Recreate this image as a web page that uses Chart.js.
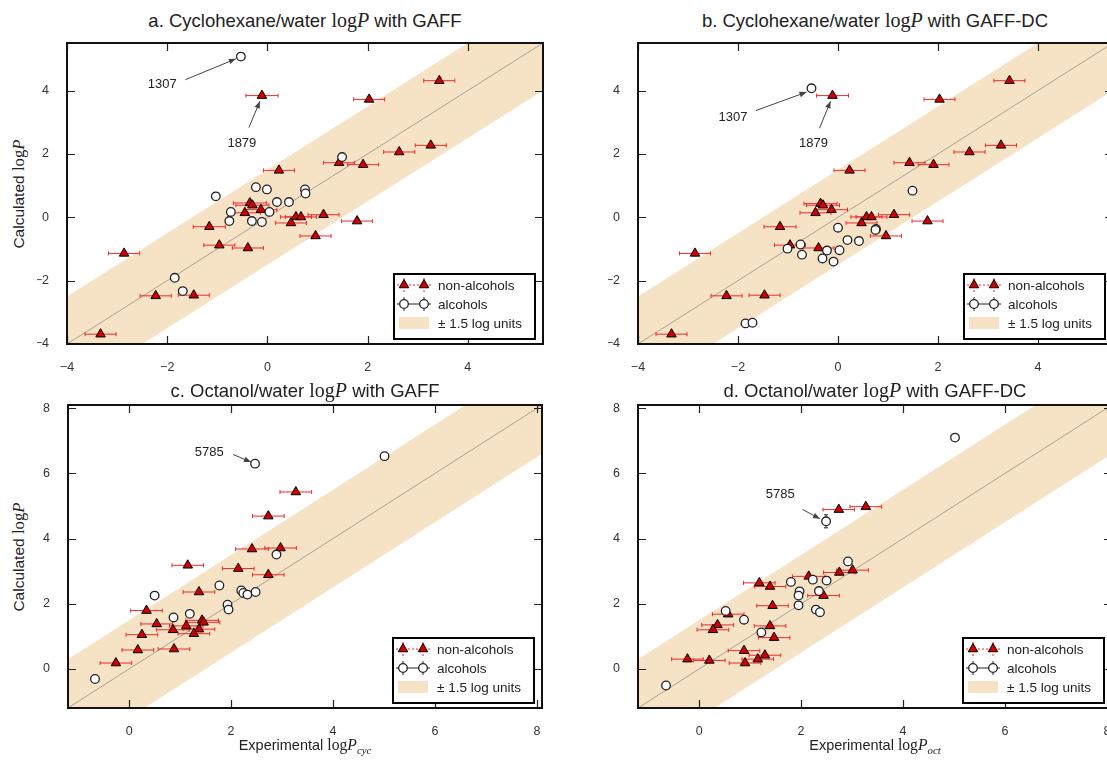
<!DOCTYPE html>
<html>
<head>
<meta charset="utf-8">
<script src="https://cdn.jsdelivr.net/npm/chart.js@4"></script>
<style>
html,body{margin:0;padding:0;background:#fff;overflow:hidden;width:1107px;height:764px;}
#wrap{position:relative;width:1107px;height:764px;overflow:hidden;}
canvas{position:absolute;}
.t{position:absolute;font-family:"Liberation Sans",Arial,sans-serif;color:#222;white-space:nowrap;text-align:center;}
.m{font-family:"Liberation Serif","Times New Roman",serif;font-size:1.08em;}
.mi{font-family:"Liberation Serif","Times New Roman",serif;font-style:italic;font-size:1.08em;}
.sub{font-family:"Liberation Serif","Times New Roman",serif;font-style:italic;font-size:0.75em;position:relative;top:0.35em;}
.ttl{font-size:18.5px;line-height:22px;width:600px;}
.yl{font-size:15.5px;transform:translate(-50%,-50%) rotate(-90deg);}
.xl{font-size:14.5px;transform:translate(-50%,-50%);}
</style>
</head>
<body>
<div id="wrap">
  <canvas id="ca" width="516" height="341" style="left:37px;top:33px;"></canvas>
  <canvas id="cb" width="515" height="341" style="left:608px;top:33px;"></canvas>
  <canvas id="cc" width="514" height="343" style="left:38px;top:395px;"></canvas>
  <canvas id="cd" width="514" height="343" style="left:608px;top:395px;"></canvas>

  <div class="t ttl" style="left:5px;top:9px;">a. Cyclohexane/water <span class="m">log</span><span class="mi">P</span> with GAFF</div>
  <div class="t ttl" style="left:575px;top:9px;">b. Cyclohexane/water <span class="m">log</span><span class="mi">P</span> with GAFF-DC</div>
  <div class="t ttl" style="left:5px;top:379px;">c. Octanol/water <span class="m">log</span><span class="mi">P</span> with GAFF</div>
  <div class="t ttl" style="left:575px;top:379px;">d. Octanol/water <span class="m">log</span><span class="mi">P</span> with GAFF-DC</div>

  <div class="t yl" style="left:18.5px;top:193.5px;">Calculated <span class="m">log</span><span class="mi">P</span></div>
  <div class="t yl" style="left:18.5px;top:556.5px;">Calculated <span class="m">log</span><span class="mi">P</span></div>
  <div class="t xl" style="left:305px;top:745px;">Experimental <span class="m">log</span><span class="mi">P</span><span class="sub">cyc</span></div>
  <div class="t xl" style="left:875px;top:745px;">Experimental <span class="m">log</span><span class="mi">P</span><span class="sub">oct</span></div>
</div>
<script>
// ---------- tick labels / axis ranges ----------
const cycXTicks = [-4, -2, 0, 2, 4];
const cycYTicks = [-4, -2, 0, 2, 4];
const octXTicks = [0, 2, 4, 6, 8];
const octYTicks = [0, 2, 4, 6, 8];
const cycRange = [-4, 5.5];
const octRange = [-1.2, 8.1];
const bandHalfWidth = 1.5;

// ---------- cyclohexane, non-alcohols (same in GAFF and GAFF-DC) ----------
const cycNonAlcExp  = [-0.11, 0.23, 1.43, -0.35, -0.30, -0.45, -0.13, -1.16, -0.96, -0.39, -2.86, -2.23, -1.47, -3.33, 0.47, 0.57, 0.67, 1.12, 0.96, 1.79, 3.43, 2.03, 3.26, 2.63, 1.91];
const cycNonAlcGaff = [3.84, 1.48, 1.72, 0.45, 0.38, 0.14, 0.24, -0.30, -0.88, -0.97, -1.14, -2.48, -2.46, -3.69, -0.18, 0.01, 0.01, 0.08, -0.59, -0.12, 4.31, 3.72, 2.27, 2.06, 1.66];
const cycNonAlcDc   = [3.84, 1.48, 1.72, 0.43, 0.38, 0.14, 0.24, -0.30, -0.88, -0.97, -1.14, -2.48, -2.46, -3.69, -0.18, 0.01, 0.01, 0.08, -0.59, -0.12, 4.31, 3.72, 2.27, 2.06, 1.66];
const cycNonAlcErr  = [0.32, 0.31, 0.31, 0.33, 0.33, 0.31, 0.32, 0.32, 0.31, 0.31, 0.31, 0.31, 0.31, 0.31, 0.31, 0.31, 0.31, 0.31, 0.31, 0.31, 0.31, 0.31, 0.31, 0.31, 0.31];

// ---------- cyclohexane, alcohols ----------
const cycAlcExpGaff = [-0.53, 1.49, -0.23, -0.01, -1.03, 0.75, 0.76, 0.19, 0.43, -0.73, 0.04, -0.76, -0.31, -0.11, -1.85, -1.69];
const cycAlcGaff    = [5.07, 1.90, 0.95, 0.88, 0.66, 0.88, 0.75, 0.48, 0.48, 0.17, 0.17, -0.12, -0.12, -0.15, -1.91, -2.33];
const cycAlcExpDc   = [-0.53, 1.49, 0.00, 0.19, 0.42, -1.01, -0.75, -0.72, -0.22, -0.31, -0.09, 0.03, -1.85, -1.71, 0.76, 0.75];
const cycAlcDc      = [4.07, 0.84, -0.33, -0.72, -0.75, -0.99, -0.86, -1.18, -1.05, -1.30, -1.40, -1.04, -3.35, -3.33, -0.37, -0.40];

// ---------- octanol, non-alcohols ----------
const octNonAlcExpGaff = [3.27, 2.73, 2.41, 2.97, 2.14, 2.73, 1.15, 1.37, 0.34, 0.54, 0.25, 0.86, 1.12, 1.43, 1.46, 1.37, 1.27, 0.17, 0.88, -0.26];
const octNonAlcGaff    = [5.43, 4.69, 3.68, 3.71, 3.08, 2.89, 3.18, 2.36, 1.79, 1.38, 1.05, 1.20, 1.32, 1.49, 1.43, 1.22, 1.08, 0.58, 0.61, 0.18];
const octNonAlcErrGaff = [0.31, 0.31, 0.32, 0.31, 0.31, 0.31, 0.31, 0.31, 0.31, 0.31, 0.31, 0.32, 0.33, 0.32, 0.32, 0.31, 0.31, 0.31, 0.31, 0.31];
const octNonAlcExpDc   = [2.74, 3.27, 1.18, 1.39, 2.15, 2.44, 2.75, 3.01, 1.44, 0.57, 0.36, 0.27, 1.39, 1.47, 0.88, 0.90, 1.15, 1.29, -0.23, 0.20];
const octNonAlcDc      = [4.89, 4.98, 2.64, 2.53, 2.84, 2.25, 2.96, 3.03, 1.94, 1.68, 1.35, 1.20, 1.32, 0.96, 0.56, 0.18, 0.30, 0.42, 0.30, 0.26];
const octNonAlcErrDc   = [0.31, 0.31, 0.31, 0.31, 0.32, 0.31, 0.31, 0.31, 0.31, 0.31, 0.31, 0.31, 0.31, 0.31, 0.31, 0.31, 0.31, 0.31, 0.31, 0.31];

// ---------- octanol, alcohols ----------
const octAlcExpGaff = [2.47, 2.89, 0.50, 1.77, 2.20, 2.24, 2.32, 2.48, 1.93, 1.95, 1.19, 0.87, -0.67, 5.01];
const octAlcGaff    = [6.30, 3.51, 2.25, 2.56, 2.41, 2.33, 2.28, 2.36, 1.97, 1.82, 1.69, 1.58, -0.31, 6.53];
const octAlcErrGaff = [0.12, 0, 0, 0, 0, 0, 0, 0, 0, 0, 0, 0, 0, 0];
const octAlcExpDc   = [2.49, 2.92, 1.80, 2.23, 2.50, 1.97, 1.95, 2.35, 1.95, 2.29, 2.37, 0.52, 0.88, 1.22, -0.65, 5.02];
const octAlcDc      = [4.53, 3.30, 2.67, 2.74, 2.71, 2.38, 2.25, 2.39, 1.95, 1.82, 1.74, 1.78, 1.51, 1.12, -0.51, 7.10];
const octAlcErrDc   = [0.2, 0, 0, 0, 0, 0, 0, 0, 0, 0, 0, 0, 0, 0, 0, 0];

// ---------- annotations: [label, textX, textY, arrowFromX, arrowFromY, arrowToX, arrowToY] ----------
const annotCycGaff = [['1307', -2.1, 4.19, -1.64, 4.34, -0.63, 5.00], ['1879', -0.51, 2.34, -0.37, 2.83, -0.15, 3.66]];
const annotCycDc   = [['1307', -2.1, 3.14, -1.64, 3.37, -0.63, 3.95], ['1879', -0.49, 2.34, -0.37, 2.81, -0.15, 3.66]];
const annotOctGaff = [['5785', 1.57, 6.64, 2.04, 6.58, 2.39, 6.35]];
const annotOctDc   = [['5785', 1.59, 5.35, 2.03, 4.89, 2.37, 4.61]];

const legendLabels = ['non-alcohols', 'alcohols', '\u00b1 1.5 log units'];

// ---------- styles ----------
const BAND = '#f6e2c5';
const TRI_FILL = '#d00000';
const ERR_RED = '#ee2a2a';
const FONT = '"Liberation Sans", Arial, sans-serif';

function pts(xs, ys) { return xs.map((x, i) => ({ x: x, y: ys[i] })); }
function fmt(v) { return String(v).replace('-', '\u2212'); }

function tri(ctx, x, y, r) {
  ctx.beginPath();
  for (let k = 0; k < 3; k++) {
    const a = k * 2 * Math.PI / 3;
    const px = x + Math.sin(a) * r, py = y - Math.cos(a) * r;
    if (k === 0) ctx.moveTo(px, py); else ctx.lineTo(px, py);
  }
  ctx.closePath();
  ctx.fillStyle = TRI_FILL; ctx.fill();
  ctx.strokeStyle = '#000'; ctx.lineWidth = 1; ctx.stroke();
}
function circ(ctx, x, y, r) {
  ctx.beginPath(); ctx.arc(x, y, r, 0, Math.PI * 2);
  ctx.fillStyle = '#fff'; ctx.fill();
  ctx.strokeStyle = '#222'; ctx.lineWidth = 1.3; ctx.stroke();
}
function arrow(ctx, x0, y0, x1, y1) {
  ctx.strokeStyle = '#444'; ctx.fillStyle = '#444'; ctx.lineWidth = 1;
  ctx.beginPath(); ctx.moveTo(x0, y0); ctx.lineTo(x1, y1); ctx.stroke();
  const a = Math.atan2(y1 - y0, x1 - x0), L = 7, W = 2.8;
  ctx.beginPath(); ctx.moveTo(x1, y1);
  ctx.lineTo(x1 - L * Math.cos(a) + W * Math.sin(a), y1 - L * Math.sin(a) - W * Math.cos(a));
  ctx.lineTo(x1 - L * Math.cos(a) - W * Math.sin(a), y1 - L * Math.sin(a) + W * Math.cos(a));
  ctx.closePath(); ctx.fill();
}

function makeChart(id, range, xTicks, yTicks, nonAlc, nonAlcErr, alc, alcErr, annots) {
  const diagX = [range[0] - 2, range[1] + 2];
  const decor = {
    id: 'decor' + id,
    beforeDatasetDraw(chart, args) {
      const ds = chart.data.datasets[args.index];
      if (!ds.xErr && !ds.yErr) return;
      const ctx = chart.ctx, xs = chart.scales.x, ys = chart.scales.y;
      ctx.save();
      ctx.strokeStyle = ds.errColor; ctx.lineWidth = 1;
      ds.data.forEach((p, i) => {
        const px = xs.getPixelForValue(p.x), py = ys.getPixelForValue(p.y);
        ctx.beginPath();
        if (ds.xErr && ds.xErr[i]) {
          const a = xs.getPixelForValue(p.x - ds.xErr[i]), b = xs.getPixelForValue(p.x + ds.xErr[i]);
          ctx.moveTo(a, py); ctx.lineTo(b, py);
          ctx.moveTo(a, py - 2); ctx.lineTo(a, py + 2);
          ctx.moveTo(b, py - 2); ctx.lineTo(b, py + 2);
        }
        if (ds.yErr && ds.yErr[i]) {
          const a = ys.getPixelForValue(p.y - ds.yErr[i]), b = ys.getPixelForValue(p.y + ds.yErr[i]);
          ctx.moveTo(px, a); ctx.lineTo(px, b);
          ctx.moveTo(px - 2, a); ctx.lineTo(px + 2, a);
          ctx.moveTo(px - 2, b); ctx.lineTo(px + 2, b);
        }
        ctx.stroke();
      });
      ctx.restore();
    },
    afterDatasetsDraw(chart) {
      const ctx = chart.ctx, ca = chart.chartArea, xs = chart.scales.x, ys = chart.scales.y;
      ctx.save();
      // inward ticks
      ctx.strokeStyle = '#222'; ctx.lineWidth = 1.2;
      ctx.beginPath();
      xTicks.forEach(v => {
        const px = Math.round(xs.getPixelForValue(v)) + 0.5;
        ctx.moveTo(px, ca.bottom); ctx.lineTo(px, ca.bottom - 8);
        ctx.moveTo(px, ca.top); ctx.lineTo(px, ca.top + 8);
      });
      yTicks.forEach(v => {
        const py = Math.round(ys.getPixelForValue(v)) + 0.5;
        ctx.moveTo(ca.left, py); ctx.lineTo(ca.left + 8, py);
        ctx.moveTo(ca.right, py); ctx.lineTo(ca.right - 8, py);
      });
      ctx.stroke();
      // annotations
      ctx.font = '13px ' + FONT;
      ctx.textAlign = 'center'; ctx.textBaseline = 'middle';
      annots.forEach(a => {
        ctx.fillStyle = '#222';
        ctx.fillText(a[0], xs.getPixelForValue(a[1]), ys.getPixelForValue(a[2]));
        arrow(ctx, xs.getPixelForValue(a[3]), ys.getPixelForValue(a[4]), xs.getPixelForValue(a[5]), ys.getPixelForValue(a[6]));
      });
      // legend
      const W = 141, H = 65;
      const lx = ca.right - 8 - W, ly = ca.bottom - 5 - H;
      ctx.fillStyle = '#fff'; ctx.fillRect(lx, ly, W, H);
      const r1 = ly + 11, r2 = ly + 30, r3 = ly + 49;
      ctx.strokeStyle = ERR_RED; ctx.lineWidth = 1; ctx.setLineDash([2, 2]);
      ctx.beginPath();
      ctx.moveTo(lx + 3, r1); ctx.lineTo(lx + 38, r1);
      ctx.moveTo(lx + 10, r1 - 7); ctx.lineTo(lx + 10, r1 + 7);
      ctx.moveTo(lx + 30, r1 - 7); ctx.lineTo(lx + 30, r1 + 7);
      ctx.stroke(); ctx.setLineDash([]);
      tri(ctx, lx + 10, r1, 5.5); tri(ctx, lx + 30, r1, 5.5);
      ctx.strokeStyle = '#222'; ctx.lineWidth = 1;
      ctx.beginPath();
      ctx.moveTo(lx + 3, r2); ctx.lineTo(lx + 37, r2);
      ctx.moveTo(lx + 10, r2 - 7); ctx.lineTo(lx + 10, r2 + 7);
      ctx.moveTo(lx + 30, r2 - 7); ctx.lineTo(lx + 30, r2 + 7);
      ctx.stroke();
      circ(ctx, lx + 10, r2, 4.3); circ(ctx, lx + 30, r2, 4.3);
      ctx.fillStyle = BAND; ctx.fillRect(lx + 5, r3 - 6, 30, 12);
      ctx.fillStyle = '#222'; ctx.font = '13.5px ' + FONT;
      ctx.textAlign = 'left'; ctx.textBaseline = 'middle';
      ctx.fillText(legendLabels[0], lx + 44, r1 + 1);
      ctx.fillText(legendLabels[1], lx + 44, r2 + 1);
      ctx.fillText(legendLabels[2], lx + 44, r3 + 1);
      ctx.strokeStyle = '#000'; ctx.lineWidth = 2;
      ctx.strokeRect(lx, ly, W, H);
      // frame
      ctx.strokeStyle = '#111'; ctx.lineWidth = 2;
      ctx.strokeRect(ca.left, ca.top, ca.right - ca.left, ca.bottom - ca.top);
      ctx.restore();
    }
  };
  const tickFont = { family: FONT, size: 12.5 };
  return new Chart(document.getElementById(id), {
    type: 'scatter',
    data: {
      datasets: [
        { type: 'line', data: diagX.map(x => ({ x: x, y: x + bandHalfWidth })), borderWidth: 0, pointRadius: 0, backgroundColor: BAND, borderColor: 'rgba(0,0,0,0)', fill: '+1', order: 4 },
        { type: 'line', data: diagX.map(x => ({ x: x, y: x - bandHalfWidth })), borderWidth: 0, pointRadius: 0, borderColor: 'rgba(0,0,0,0)', fill: false, order: 3 },
        { type: 'line', data: diagX.map(x => ({ x: x, y: x })), borderWidth: 1, pointRadius: 0, borderColor: 'rgba(110,110,110,0.55)', fill: false, order: 2 },
        { data: nonAlc, xErr: nonAlcErr, errColor: ERR_RED, pointStyle: 'triangle', pointRadius: 5.5, backgroundColor: TRI_FILL, borderColor: '#000', borderWidth: 1, order: 1 },
        { data: alc, yErr: alcErr, errColor: '#222', pointStyle: 'circle', pointRadius: 4.3, backgroundColor: '#fff', borderColor: '#222', borderWidth: 1.3, order: 0 }
      ]
    },
    options: {
      responsive: false, animation: false, events: [],
      layout: { padding: { left: 0, right: 10, top: 10, bottom: 0 } },
      plugins: { legend: { display: false }, tooltip: { enabled: false }, title: { display: false } },
      scales: {
        x: {
          type: 'linear', position: 'bottom', min: range[0], max: range[1],
          grid: { display: false }, border: { display: false },
          afterBuildTicks: s => { s.ticks = xTicks.map(v => ({ value: v })); },
          afterFit: s => { s.height = 30; s.paddingLeft = 0; s.paddingRight = 0; s.paddingTop = 0; s.paddingBottom = 0; },
          ticks: { font: tickFont, color: '#333', padding: 8, maxRotation: 0, callback: v => fmt(v) }
        },
        y: {
          type: 'linear', position: 'left', min: range[0], max: range[1],
          grid: { display: false }, border: { display: false },
          afterBuildTicks: s => { s.ticks = yTicks.map(v => ({ value: v })); },
          afterFit: s => { s.width = 30; s.paddingTop = 0; s.paddingBottom = 0; s.paddingLeft = 0; s.paddingRight = 0; },
          ticks: { font: tickFont, color: '#333', padding: 10, callback: v => fmt(v) }
        }
      }
    },
    plugins: [decor]
  });
}

makeChart('ca', cycRange, cycXTicks, cycYTicks, pts(cycNonAlcExp, cycNonAlcGaff), cycNonAlcErr, pts(cycAlcExpGaff, cycAlcGaff), null, annotCycGaff);
makeChart('cb', cycRange, cycXTicks, cycYTicks, pts(cycNonAlcExp, cycNonAlcDc), cycNonAlcErr, pts(cycAlcExpDc, cycAlcDc), null, annotCycDc);
makeChart('cc', octRange, octXTicks, octYTicks, pts(octNonAlcExpGaff, octNonAlcGaff), octNonAlcErrGaff, pts(octAlcExpGaff, octAlcGaff), octAlcErrGaff, annotOctGaff);
makeChart('cd', octRange, octXTicks, octYTicks, pts(octNonAlcExpDc, octNonAlcDc), octNonAlcErrDc, pts(octAlcExpDc, octAlcDc), octAlcErrDc, annotOctDc);
</script>
</body>
</html>
